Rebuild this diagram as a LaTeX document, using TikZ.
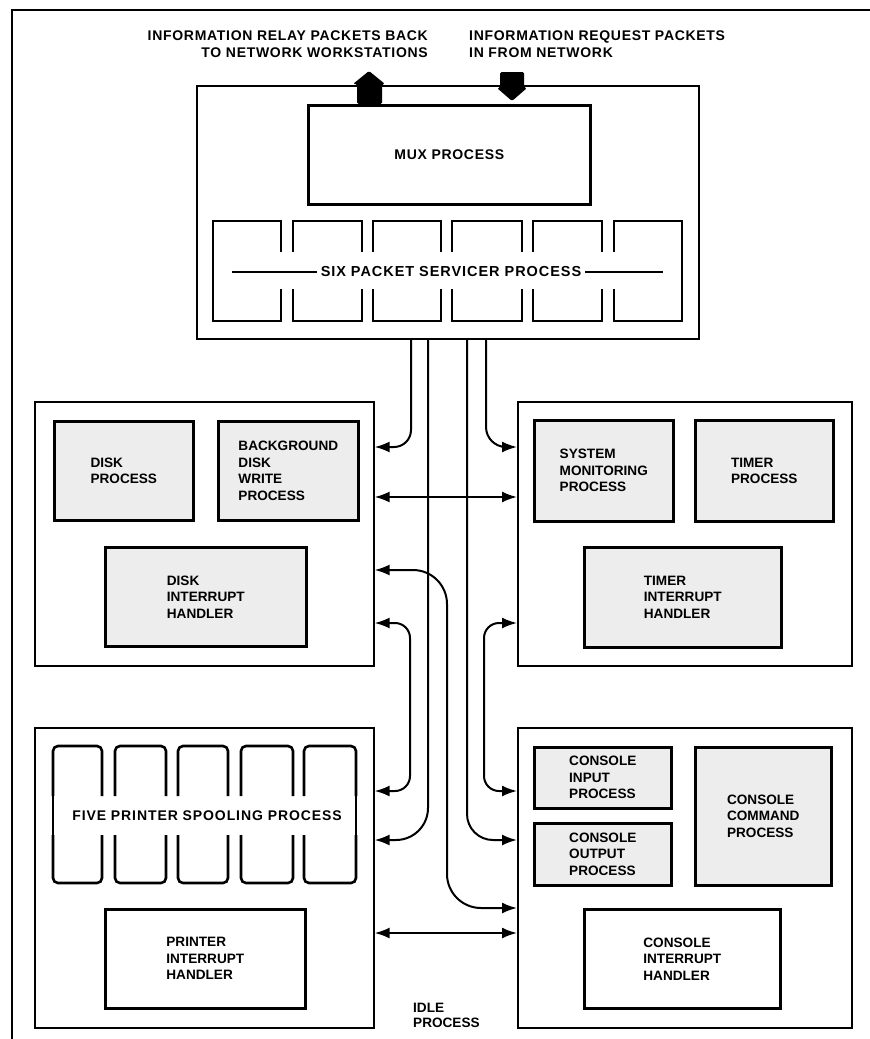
\documentclass[tikz,border=0pt]{standalone}
\usepackage{fontspec}
\setmainfont{Liberation Sans}
\newfontfamily\spacedfont[LetterSpace=5]{Liberation Sans}
\newfontfamily\widefont[LetterSpace=6.5]{Liberation Sans}
\usetikzlibrary{arrows.meta}
\newcommand\lblfont{\fontsize{13.6pt}{16.5pt}\selectfont\bfseries}
\newcommand\ttlfont{\spacedfont\fontsize{14pt}{17pt}\selectfont\bfseries}
\newcommand\sixfont{\widefont\fontsize{14.5pt}{17pt}\selectfont\bfseries}
\newcommand\fivefont{\widefont\fontsize{14pt}{17pt}\selectfont\bfseries}
\definecolor{boxgray}{gray}{0.93}
\begin{document}
\begin{tikzpicture}[x=1pt,y=-1pt,
  grp/.style={draw, line width=1.6pt, anchor=north west, inner sep=0pt},
  inbox/.style={draw, line width=2.6pt, fill=boxgray, anchor=north west,
    inner sep=0pt, align=left, font=\lblfont},
  wbox/.style={inbox, fill=white},
  ttl/.style={inner sep=0pt, font=\ttlfont},
  cell/.style={line width=2.6pt, line join=miter},
  pcell/.style={line width=2.6pt, rounded corners=5pt},
  cn/.style={line width=2pt},
  tip/.style={-{Latex[length=15pt,width=11pt]}},
  dtip/.style={{Latex[length=15pt,width=11pt]}-{Latex[length=15pt,width=11pt]}},
  blk/.style={fill=black, rounded corners=1.5pt}
]
\useasboundingbox (0,0) rectangle (870,1039);
\fill[white] (0,0) rectangle (870,1039);
% outer frame
\draw[line width=2pt] (12,1039) -- (12,10) -- (870,10);

% titles
\node[ttl, anchor=base east] (t1a) at (428,40) {INFORMATION RELAY PACKETS BACK};
\node[ttl, anchor=base east] (t1b) at (428,57) {TO NETWORK WORKSTATIONS};
\node[ttl, anchor=base west] (t2a) at (469,40) {INFORMATION REQUEST PACKETS};
\node[ttl, anchor=base west] (t2b) at (469,57) {IN FROM NETWORK};

% main box
\node[grp, line width=2pt, minimum width=502pt, minimum height=253pt] (mainbox) at (196,85) {};
\node[wbox, font=\ttlfont, minimum width=282pt, minimum height=99pt] (mux) at (307,104) {MUX PROCESS};

% block arrows
\path[blk] (357,104) -- (357,84) -- (353,84) -- (369,71) -- (385,84) -- (382,84) -- (382,104) -- cycle;
\path[blk] (500,72) -- (524,72) -- (524,88) -- (527,88) -- (512,101) -- (497,88) -- (500,88) -- cycle;

% six packet servicer cells
\foreach \l/\r in {213/281, 293/362, 373/441, 452/522, 533/602, 614/682} {
  \draw[cell] (\l,252) -- (\l,221) -- (\r,221) -- (\r,252);
  \draw[cell] (\l,289) -- (\l,321) -- (\r,321) -- (\r,289);
}
\draw[cell] (213,250) -- (213,291);
\draw[cell] (682,250) -- (682,291);
\node[inner ysep=0pt, inner xsep=4pt, font=\sixfont] (six) at (451,272) {SIX PACKET SERVICER PROCESS};
\coordinate (sixL) at (232,272);
\coordinate (sixR) at (663,272);
\draw[cn] (sixL) -- (six.west);
\draw[cn] (six.east) -- (sixR);

% groups
\node[grp, minimum width=339pt, minimum height=264pt] (diskg) at (34,401) {};
\node[grp, minimum width=334pt, minimum height=264pt] (timerg) at (517,401) {};
\node[grp, minimum width=339pt, minimum height=300pt] (printg) at (34,727) {};
\node[grp, minimum width=334pt, minimum height=300pt] (consg) at (517,727) {};

% disk group
\node[inbox, minimum width=139pt, minimum height=99pt] (diskp) at (53,420) {DISK\\PROCESS};
\node[inbox, minimum width=140pt, minimum height=99pt] (bgw) at (217,420) {BACKGROUND\\DISK\\WRITE\\PROCESS};
\node[inbox, minimum width=201pt, minimum height=99pt] (diskint) at (104,546) {DISK\\INTERRUPT\\HANDLER};

% timer group
\node[inbox, minimum width=139pt, minimum height=101pt] (sysmon) at (533,419) {SYSTEM\\MONITORING\\PROCESS};
\node[inbox, minimum width=138pt, minimum height=101pt] (timerp) at (694,419) {TIMER\\PROCESS};
\node[inbox, minimum width=197pt, minimum height=100pt] (timerint) at (583,546) {TIMER\\INTERRUPT\\HANDLER};

% printer group
\foreach \l/\r in {53/102, 115/166, 178/228, 241/293, 304/356} {
  \draw[pcell] (\l,796) -- (\l,746) -- (\r,746) -- (\r,796);
  \draw[pcell] (\l,835) -- (\l,883) -- (\r,883) -- (\r,835);
}
\draw[cell] (53,794) -- (53,837);
\draw[cell] (356,794) -- (356,837);
\node[inner sep=0pt, font=\fivefont] (five) at (207,816) {FIVE PRINTER SPOOLING PROCESS};
\node[wbox, minimum width=200pt, minimum height=99pt] (pint) at (104,908) {PRINTER\\INTERRUPT\\HANDLER};

% console group
\node[inbox, minimum width=137pt, minimum height=61pt] (cin) at (533,746) {CONSOLE\\INPUT\\PROCESS};
\node[inbox, minimum width=137pt, minimum height=62pt] (cout) at (533,822) {CONSOLE\\OUTPUT\\PROCESS};
\node[inbox, minimum width=136pt, minimum height=138pt] (ccmd) at (694,746) {CONSOLE\\COMMAND\\PROCESS};
\node[wbox, minimum width=196pt, minimum height=99pt] (cint) at (583,908) {CONSOLE\\INTERRUPT\\HANDLER};

% idle process
\node[inner sep=0pt, font=\lblfont, anchor=base west] (idle1) at (413,1012) {IDLE};
\node[inner sep=0pt, font=\lblfont, anchor=base west] (idle2) at (413,1027) {PROCESS};

% connector columns and rows
\coordinate (cF) at (410,0);
\coordinate (cA) at (411,0);
\coordinate (cB) at (428,0);
\coordinate (cE) at (447,0);
\coordinate (cC) at (467,0);
\coordinate (cG) at (484,0);
\coordinate (cD) at (486,0);
\coordinate (rA) at (0,447);
\coordinate (rB) at (0,497);
\coordinate (rC) at (0,570);
\coordinate (rD) at (0,623);
\coordinate (rE) at (0,791);
\coordinate (rF) at (0,840);
\coordinate (rG) at (0,908);
\coordinate (rH) at (0,933);

% connectors
\draw[cn, tip, rounded corners=17pt] (mainbox.south -| cA) -- (cA |- rA) -- (diskg.east |- rA);
\draw[cn, tip, rounded corners=20pt] (mainbox.south -| cD) -- (cD |- rA) -- (timerg.west |- rA);
\draw[cn, dtip] (diskg.east |- rB) -- (timerg.west |- rB);
\draw[cn, dtip, rounded corners=34pt] (diskg.east |- rC) -- (cE |- rC) -- (cE |- rG) -- (consg.west |- rG);
\draw[cn, dtip, rounded corners=15pt] (diskg.east |- rD) -- (cF |- rD) -- (cF |- rE) -- (printg.east |- rE);
\draw[cn, dtip, rounded corners=15pt] (timerg.west |- rD) -- (cG |- rD) -- (cG |- rE) -- (consg.west |- rE);
\draw[cn, tip, rounded corners=32pt] (mainbox.south -| cB) -- (cB |- rF) -- (printg.east |- rF);
\draw[cn, tip, rounded corners=26pt] (mainbox.south -| cC) -- (cC |- rF) -- (consg.west |- rF);
\draw[cn, dtip] (printg.east |- rH) -- (consg.west |- rH);
\end{tikzpicture}
\end{document}
